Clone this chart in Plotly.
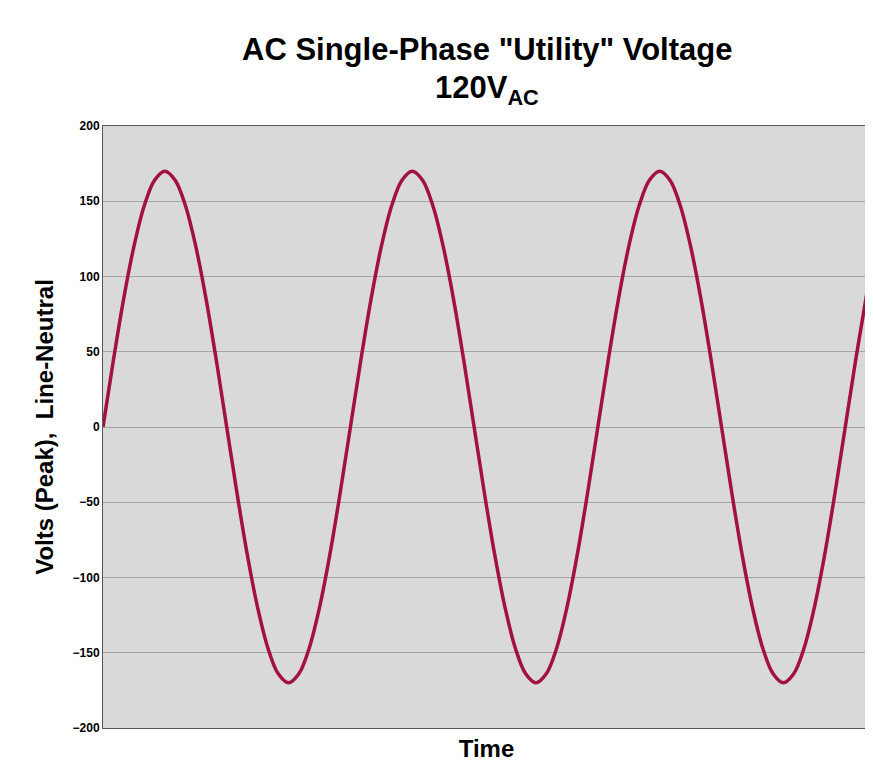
import plotly.graph_objects as go

# time samples (1/24 of a cycle each) and voltage
cycle = [0, 44, 85, 120, 147, 164, 170, 164, 147, 120, 85, 44,
         0, -44, -85, -120, -147, -164, -170, -164, -147, -120, -85, -44]
time = [i for i in range(75)] + [74.4]
volts = cycle + cycle + cycle + [0, 44, 85, 100]

fig = go.Figure()
fig.add_trace(go.Scatter(x=time, y=volts, mode="lines",
                         line=dict(color="#a3123f", width=3.5, shape="spline")))

fig.update_layout(
    width=873, height=777,
    margin=dict(l=95, r=11, t=118, b=57, autoexpand=False),
    paper_bgcolor="white", plot_bgcolor="#d9d9d9",
    font=dict(family="Liberation Sans, Arial", color="black"),
    showlegend=False,
)
fig.add_annotation(text='<b>AC Single-Phase "Utility" Voltage</b>', xref="paper", yref="paper",
                   x=0.5, y=1.0, yshift=96, showarrow=False, font=dict(size=31))
fig.add_annotation(text='<b>120V<sub>AC</sub></b>', xref="paper", yref="paper",
                   x=0.5, y=1.0, yshift=58, showarrow=False, font=dict(size=31))
fig.update_xaxes(range=[0, 74.4], showticklabels=False, showgrid=False, zeroline=False,
                 showline=True, linecolor="#555", mirror=True, ticks="",
                 title=dict(text="<b>Time</b>", font=dict(size=24), standoff=12))
fig.update_yaxes(range=[-200, 200], dtick=50, showgrid=True, gridcolor="#a6a6a6",
                 zeroline=False, showline=True, linecolor="#555", mirror=True, automargin=False,
                 tickfont=dict(size=12), tickprefix="<b>", ticksuffix="</b>",
                 title=dict(text="<b>Volts (Peak),  Line-Neutral</b>", font=dict(size=24), standoff=12))

fig.write_html("out.html")
